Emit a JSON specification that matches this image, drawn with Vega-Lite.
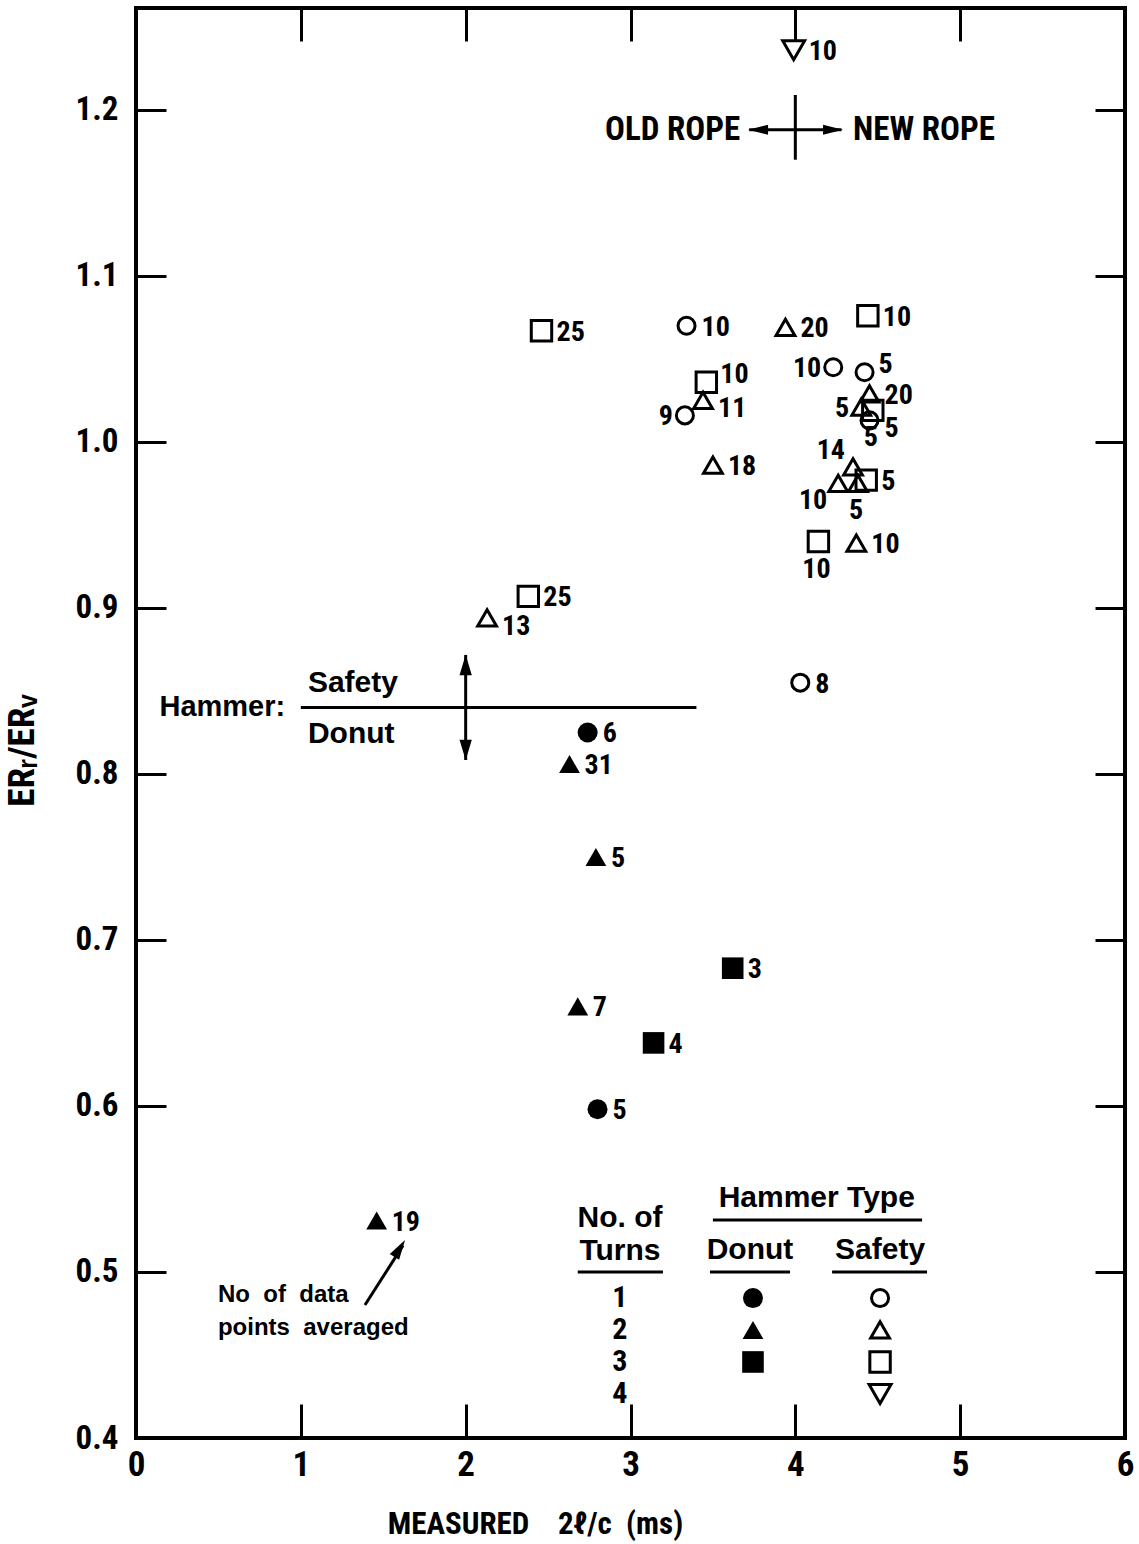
{
  "$schema": "https://vega.github.io/schema/vega-lite/v6.json",
  "width": 989,
  "height": 1430,
  "autosize": "none",
  "padding": {"left": 136, "top": 8, "right": 14, "bottom": 106},
  "background": "white",
  "config": {
    "view": {"stroke": "black", "strokeWidth": 4},
    "font": "Roboto Condensed, Liberation Sans Narrow, Liberation Sans, sans-serif",
    "text": {"color": "black", "fontWeight": "bold"}
  },
  "datasets": {
    "points": [
      {"hammer": "Safety", "turns": 1, "x": 3.34, "y": 1.070, "n": 10, "labelAt": "right"},
      {"hammer": "Safety", "turns": 1, "x": 3.33, "y": 1.016, "n": 9, "labelAt": "left"},
      {"hammer": "Safety", "turns": 1, "x": 4.23, "y": 1.045, "n": 10, "labelAt": "left"},
      {"hammer": "Safety", "turns": 1, "x": 4.42, "y": 1.042, "n": 5, "labelAt": "upperright"},
      {"hammer": "Safety", "turns": 1, "x": 4.45, "y": 1.013, "n": 5, "labelAt": "lowerright"},
      {"hammer": "Safety", "turns": 1, "x": 4.03, "y": 0.855, "n": 8, "labelAt": "right"},
      {"hammer": "Safety", "turns": 2, "x": 2.13, "y": 0.894, "n": 13, "labelAt": "lowerright"},
      {"hammer": "Safety", "turns": 2, "x": 3.94, "y": 1.069, "n": 20, "labelAt": "right"},
      {"hammer": "Safety", "turns": 2, "x": 3.44, "y": 1.025, "n": 11, "labelAt": "lowerright"},
      {"hammer": "Safety", "turns": 2, "x": 3.50, "y": 0.986, "n": 18, "labelAt": "right"},
      {"hammer": "Safety", "turns": 2, "x": 4.45, "y": 1.029, "n": 20, "labelAt": "right"},
      {"hammer": "Safety", "turns": 2, "x": 4.40, "y": 1.021, "n": 5, "labelAt": "left"},
      {"hammer": "Safety", "turns": 2, "x": 4.35, "y": 0.985, "n": 14, "labelAt": "upperleft"},
      {"hammer": "Safety", "turns": 2, "x": 4.26, "y": 0.975, "n": 10, "labelAt": "lowerleft"},
      {"hammer": "Safety", "turns": 2, "x": 4.38, "y": 0.975, "n": 5, "labelAt": "below"},
      {"hammer": "Safety", "turns": 2, "x": 4.37, "y": 0.939, "n": 10, "labelAt": "right"},
      {"hammer": "Safety", "turns": 3, "x": 2.46, "y": 1.067, "n": 25, "labelAt": "right"},
      {"hammer": "Safety", "turns": 3, "x": 3.46, "y": 1.036, "n": 10, "labelAt": "upperright"},
      {"hammer": "Safety", "turns": 3, "x": 4.44, "y": 1.076, "n": 10, "labelAt": "right"},
      {"hammer": "Safety", "turns": 3, "x": 4.47, "y": 1.019, "n": 5, "labelAt": "below"},
      {"hammer": "Safety", "turns": 3, "x": 4.43, "y": 0.977, "n": 5, "labelAt": "right"},
      {"hammer": "Safety", "turns": 3, "x": 4.14, "y": 0.940, "n": 10, "labelAt": "below"},
      {"hammer": "Safety", "turns": 3, "x": 2.38, "y": 0.907, "n": 25, "labelAt": "right"},
      {"hammer": "Safety", "turns": 4, "x": 3.99, "y": 1.236, "n": 10, "labelAt": "right"},
      {"hammer": "Donut", "turns": 1, "x": 2.74, "y": 0.825, "n": 6, "labelAt": "right"},
      {"hammer": "Donut", "turns": 1, "x": 2.80, "y": 0.598, "n": 5, "labelAt": "right"},
      {"hammer": "Donut", "turns": 2, "x": 2.63, "y": 0.806, "n": 31, "labelAt": "right"},
      {"hammer": "Donut", "turns": 2, "x": 2.79, "y": 0.750, "n": 5, "labelAt": "right"},
      {"hammer": "Donut", "turns": 2, "x": 2.68, "y": 0.660, "n": 7, "labelAt": "right"},
      {"hammer": "Donut", "turns": 2, "x": 1.46, "y": 0.531, "n": 19, "labelAt": "right"},
      {"hammer": "Donut", "turns": 3, "x": 3.62, "y": 0.683, "n": 3, "labelAt": "right"},
      {"hammer": "Donut", "turns": 3, "x": 3.14, "y": 0.638, "n": 4, "labelAt": "right"}
    ],
    "key": [
      {"hammer": "Donut", "turns": 1, "x": 3.743, "y": 0.4843},
      {"hammer": "Donut", "turns": 2, "x": 3.743, "y": 0.4651},
      {"hammer": "Donut", "turns": 3, "x": 3.743, "y": 0.4458},
      {"hammer": "Safety", "turns": 1, "x": 4.514, "y": 0.4843},
      {"hammer": "Safety", "turns": 2, "x": 4.514, "y": 0.4651},
      {"hammer": "Safety", "turns": 3, "x": 4.514, "y": 0.4458},
      {"hammer": "Safety", "turns": 4, "x": 4.514, "y": 0.4265}
    ],
    "lines": [
      {"x": 1.0, "y": 0.84, "x2": 3.40, "y2": 0.84},
      {"x": 2.0, "y": 0.8717, "x2": 2.0, "y2": 0.8084},
      {"x": 4.0, "y": 1.209, "x2": 4.0, "y2": 1.170},
      {"x": 3.72, "y": 1.188, "x2": 4.28, "y2": 1.188},
      {"x": 2.68, "y": 0.50, "x2": 3.197, "y2": 0.50},
      {"x": 3.482, "y": 0.50, "x2": 3.968, "y2": 0.50},
      {"x": 4.223, "y": 0.50, "x2": 4.799, "y2": 0.50},
      {"x": 3.50, "y": 0.5313, "x2": 4.769, "y2": 0.5313},
      {"x": 1.389, "y": 0.4801, "x2": 1.62, "y2": 0.516}
    ]
  },
  "layer": [
    {
      "data": {"name": "points"},
      "transform": [{"filter": "datum.hammer == 'Donut'"}],
      "mark": {"type": "point", "filled": true, "color": "black", "opacity": 1},
      "encoding": {
        "x": {
          "field": "x", "type": "quantitative",
          "scale": {"domain": [0, 6], "nice": false, "zero": false},
          "axis": {
            "orient": "bottom", "values": [0, 1, 2, 3, 4, 5, 6], "format": "d",
            "domain": false, "grid": false, "ticks": true, "tickSize": -34, "tickWidth": 3, "tickColor": "black",
            "labelFont": "Roboto Condensed, Liberation Sans Narrow, Liberation Sans, sans-serif", "labelFontSize": 35, "labelFontWeight": "bold",
            "labelColor": "black", "labelPadding": 43, "labelFlush": false, "labelOverlap": false,
            "title": "MEASURED\u00a0\u00a0\u00a0\u00a02ℓ/c\u00a0\u00a0(ms)",
            "titleFont": "Roboto Condensed, Liberation Sans Narrow, Liberation Sans, sans-serif", "titleFontSize": 31, "titleFontWeight": "bold",
            "titleColor": "black", "titleX": 399, "titleY": 86, "titleAlign": "center", "titleBaseline": "middle"
          }
        },
        "y": {
          "field": "y", "type": "quantitative",
          "scale": {"domain": [0.4, 1.2614], "nice": false, "zero": false},
          "axis": {
            "orient": "left", "values": [0.4, 0.5, 0.6, 0.7, 0.8, 0.9, 1.0, 1.1, 1.2], "format": ".1f",
            "domain": false, "grid": false, "ticks": true, "tickSize": -30, "tickWidth": 3, "tickColor": "black",
            "labelFont": "Roboto Condensed, Liberation Sans Narrow, Liberation Sans, sans-serif", "labelFontSize": 33, "labelFontWeight": "bold",
            "labelColor": "black", "labelPadding": 48, "labelFlush": false, "labelOverlap": false,
            "title": "ERᵣ/ERᵥ",
            "titleFont": "Roboto Condensed, Liberation Sans Narrow, Liberation Sans, sans-serif", "titleFontSize": 37, "titleFontWeight": "bold",
            "titleColor": "black", "titleAngle": 270, "titleX": -114, "titleY": 742, "titleAlign": "center", "titleBaseline": "middle"
          }
        },
        "shape": {"field": "turns", "type": "nominal", "scale": {"domain": [1, 2, 3, 4], "range": ["circle", "triangle-up", "square", "triangle-down"]}, "legend": null},
        "size": {"field": "turns", "type": "ordinal", "scale": {"domain": [1, 2, 3, 4], "range": [400, 500, 330, 500]}, "legend": null}
      }
    },
    {
      "data": {"name": "points"},
      "transform": [{"filter": "datum.hammer == 'Safety'"}],
      "mark": {"type": "point", "filled": false, "color": "black", "strokeWidth": 3, "opacity": 1},
      "encoding": {
        "x": {
          "field": "x", "type": "quantitative",
          "axis": {"orient": "top", "values": [1, 2, 3, 4, 5], "labels": false, "domain": false, "grid": false,
                   "tickSize": -33, "tickWidth": 3, "tickColor": "black", "title": null}
        },
        "y": {
          "field": "y", "type": "quantitative",
          "axis": {"orient": "right", "values": [0.5, 0.6, 0.7, 0.8, 0.9, 1.0, 1.1, 1.2], "labels": false, "domain": false, "grid": false,
                   "tickSize": -30, "tickWidth": 3, "tickColor": "black", "title": null}
        },
        "shape": {"field": "turns", "type": "nominal", "scale": {"domain": [1, 2, 3, 4], "range": ["circle", "triangle-up", "square", "triangle-down"]}, "legend": null},
        "size": {"field": "turns", "type": "ordinal", "scale": {"domain": [1, 2, 3, 4], "range": [290, 480, 270, 480]}, "legend": null}
      }
    },
    {
      "data": {"name": "lines"},
      "mark": {"type": "rule", "color": "black", "strokeWidth": 3},
      "encoding": {
        "x": {"field": "x", "type": "quantitative", "axis": null},
        "y": {"field": "y", "type": "quantitative", "axis": null},
        "x2": {"field": "x2"},
        "y2": {"field": "y2"}
      }
    },
    {
      "data": {"values": [{"x": 3.774, "y": 1.188}]},
      "mark": {"type": "point", "shape": "M-1,0L1,-0.5L1,0.5Z", "filled": true, "color": "black", "size": 400, "opacity": 1},
      "encoding": {"x": {"field": "x", "type": "quantitative", "axis": null}, "y": {"field": "y", "type": "quantitative", "axis": null}}
    },
    {
      "data": {"values": [{"x": 4.229, "y": 1.188}]},
      "mark": {"type": "point", "shape": "M1,0L-1,-0.5L-1,0.5Z", "filled": true, "color": "black", "size": 400, "opacity": 1},
      "encoding": {"x": {"field": "x", "type": "quantitative", "axis": null}, "y": {"field": "y", "type": "quantitative", "axis": null}}
    },
    {
      "data": {"values": [{"x": 2.0, "y": 0.8657}]},
      "mark": {"type": "point", "shape": "M0,-1L-0.6,1L0.6,1Z", "filled": true, "color": "black", "size": 420, "opacity": 1},
      "encoding": {"x": {"field": "x", "type": "quantitative", "axis": null}, "y": {"field": "y", "type": "quantitative", "axis": null}}
    },
    {
      "data": {"values": [{"x": 2.0, "y": 0.8145}]},
      "mark": {"type": "point", "shape": "M0,1L-0.6,-1L0.6,-1Z", "filled": true, "color": "black", "size": 420, "opacity": 1},
      "encoding": {"x": {"field": "x", "type": "quantitative", "axis": null}, "y": {"field": "y", "type": "quantitative", "axis": null}}
    },
    {
      "data": {"values": [{"x": 1.600, "y": 0.5142}]},
      "mark": {"type": "point", "shape": "M0,-1L-0.55,1L0.55,1Z", "angle": 32, "filled": true, "color": "black", "size": 400, "opacity": 1},
      "encoding": {"x": {"field": "x", "type": "quantitative", "axis": null}, "y": {"field": "y", "type": "quantitative", "axis": null}}
    },
    {
      "data": {"name": "key"},
      "transform": [{"filter": "datum.hammer == 'Donut'"}],
      "mark": {"type": "point", "filled": true, "color": "black", "opacity": 1},
      "encoding": {
        "x": {"field": "x", "type": "quantitative", "axis": null},
        "y": {"field": "y", "type": "quantitative", "axis": null},
        "shape": {"field": "turns", "type": "nominal", "scale": {"domain": [1, 2, 3, 4], "range": ["circle", "triangle-up", "square", "triangle-down"]}, "legend": null},
        "size": {"field": "turns", "type": "ordinal", "scale": {"domain": [1, 2, 3, 4], "range": [400, 500, 330, 500]}, "legend": null}
      }
    },
    {
      "data": {"name": "key"},
      "transform": [{"filter": "datum.hammer == 'Safety'"}],
      "mark": {"type": "point", "filled": false, "color": "black", "strokeWidth": 3, "opacity": 1},
      "encoding": {
        "x": {"field": "x", "type": "quantitative", "axis": null},
        "y": {"field": "y", "type": "quantitative", "axis": null},
        "shape": {"field": "turns", "type": "nominal", "scale": {"domain": [1, 2, 3, 4], "range": ["circle", "triangle-up", "square", "triangle-down"]}, "legend": null},
        "size": {"field": "turns", "type": "ordinal", "scale": {"domain": [1, 2, 3, 4], "range": [290, 480, 270, 480]}, "legend": null}
      }
    },
    {
      "data": {"name": "points"},
      "transform": [{"filter": "datum.labelAt == 'right'"}],
      "mark": {"type": "text", "align": "left", "baseline": "middle", "dx": 15, "dy": 2, "fontSize": 28, "fontWeight": "bold"},
      "encoding": {"x": {"field": "x", "type": "quantitative", "axis": null}, "y": {"field": "y", "type": "quantitative", "axis": null}, "text": {"field": "n"}}
    },
    {
      "data": {"name": "points"},
      "transform": [{"filter": "datum.labelAt == 'upperright'"}],
      "mark": {"type": "text", "align": "left", "baseline": "middle", "dx": 14, "dy": -7, "fontSize": 28, "fontWeight": "bold"},
      "encoding": {"x": {"field": "x", "type": "quantitative", "axis": null}, "y": {"field": "y", "type": "quantitative", "axis": null}, "text": {"field": "n"}}
    },
    {
      "data": {"name": "points"},
      "transform": [{"filter": "datum.labelAt == 'lowerright'"}],
      "mark": {"type": "text", "align": "left", "baseline": "middle", "dx": 15, "dy": 9, "fontSize": 28, "fontWeight": "bold"},
      "encoding": {"x": {"field": "x", "type": "quantitative", "axis": null}, "y": {"field": "y", "type": "quantitative", "axis": null}, "text": {"field": "n"}}
    },
    {
      "data": {"name": "points"},
      "transform": [{"filter": "datum.labelAt == 'left'"}],
      "mark": {"type": "text", "align": "right", "baseline": "middle", "dx": -12, "dy": 2, "fontSize": 28, "fontWeight": "bold"},
      "encoding": {"x": {"field": "x", "type": "quantitative", "axis": null}, "y": {"field": "y", "type": "quantitative", "axis": null}, "text": {"field": "n"}}
    },
    {
      "data": {"name": "points"},
      "transform": [{"filter": "datum.labelAt == 'below'"}],
      "mark": {"type": "text", "align": "center", "baseline": "middle", "dx": -2, "dy": 28, "fontSize": 28, "fontWeight": "bold"},
      "encoding": {"x": {"field": "x", "type": "quantitative", "axis": null}, "y": {"field": "y", "type": "quantitative", "axis": null}, "text": {"field": "n"}}
    },
    {
      "data": {"name": "points"},
      "transform": [{"filter": "datum.labelAt == 'upperleft'"}],
      "mark": {"type": "text", "align": "right", "baseline": "middle", "dx": -8, "dy": -16, "fontSize": 28, "fontWeight": "bold"},
      "encoding": {"x": {"field": "x", "type": "quantitative", "axis": null}, "y": {"field": "y", "type": "quantitative", "axis": null}, "text": {"field": "n"}}
    },
    {
      "data": {"name": "points"},
      "transform": [{"filter": "datum.labelAt == 'lowerleft'"}],
      "mark": {"type": "text", "align": "right", "baseline": "middle", "dx": -11, "dy": 18, "fontSize": 28, "fontWeight": "bold"},
      "encoding": {"x": {"field": "x", "type": "quantitative", "axis": null}, "y": {"field": "y", "type": "quantitative", "axis": null}, "text": {"field": "n"}}
    },
    {
      "data": {"values": [{"x": 3.665, "y": 1.188, "t": "OLD ROPE"}]},
      "mark": {"type": "text", "align": "right", "baseline": "middle", "fontSize": 33, "fontWeight": "bold"},
      "encoding": {"x": {"field": "x", "type": "quantitative", "axis": null}, "y": {"field": "y", "type": "quantitative", "axis": null}, "text": {"field": "t"}}
    },
    {
      "data": {"values": [{"x": 4.35, "y": 1.188, "t": "NEW ROPE"}]},
      "mark": {"type": "text", "align": "left", "baseline": "middle", "fontSize": 33, "fontWeight": "bold"},
      "encoding": {"x": {"field": "x", "type": "quantitative", "axis": null}, "y": {"field": "y", "type": "quantitative", "axis": null}, "text": {"field": "t"}}
    },
    {
      "data": {"values": [{"x": 0.905, "y": 0.8405, "t": "Hammer:"}]},
      "mark": {"type": "text", "align": "right", "baseline": "middle", "fontSize": 29, "fontWeight": "bold", "font": "Liberation Sans, Arial, sans-serif"},
      "encoding": {"x": {"field": "x", "type": "quantitative", "axis": null}, "y": {"field": "y", "type": "quantitative", "axis": null}, "text": {"field": "t"}}
    },
    {
      "data": {"values": [{"x": 1.043, "y": 0.855, "t": "Safety"}, {"x": 1.043, "y": 0.824, "t": "Donut"}]},
      "mark": {"type": "text", "align": "left", "baseline": "middle", "fontSize": 30, "fontWeight": "bold", "font": "Liberation Sans, Arial, sans-serif"},
      "encoding": {"x": {"field": "x", "type": "quantitative", "axis": null}, "y": {"field": "y", "type": "quantitative", "axis": null}, "text": {"field": "t"}}
    },
    {
      "data": {"values": [{"x": 0.497, "y": 0.486, "t": "No\u00a0\u00a0of\u00a0\u00a0data"}, {"x": 0.497, "y": 0.466, "t": "points\u00a0\u00a0averaged"}]},
      "mark": {"type": "text", "align": "left", "baseline": "middle", "fontSize": 24, "fontWeight": "bold", "font": "Liberation Sans, Arial, sans-serif"},
      "encoding": {"x": {"field": "x", "type": "quantitative", "axis": null}, "y": {"field": "y", "type": "quantitative", "axis": null}, "text": {"field": "t"}}
    },
    {
      "data": {"values": [
        {"x": 2.936, "y": 0.5325, "t": "No. of"},
        {"x": 2.936, "y": 0.5125, "t": "Turns"},
        {"x": 4.13, "y": 0.5446, "t": "Hammer Type"},
        {"x": 3.725, "y": 0.5133, "t": "Donut"},
        {"x": 4.514, "y": 0.5133, "t": "Safety"}
      ]},
      "mark": {"type": "text", "align": "center", "baseline": "middle", "fontSize": 30, "fontWeight": "bold", "font": "Liberation Sans, Arial, sans-serif"},
      "encoding": {"x": {"field": "x", "type": "quantitative", "axis": null}, "y": {"field": "y", "type": "quantitative", "axis": null}, "text": {"field": "t"}}
    },
    {
      "data": {"values": [
        {"x": 2.936, "y": 0.4843, "t": "1"},
        {"x": 2.936, "y": 0.4651, "t": "2"},
        {"x": 2.936, "y": 0.4458, "t": "3"},
        {"x": 2.936, "y": 0.4265, "t": "4"}
      ]},
      "mark": {"type": "text", "align": "center", "baseline": "middle", "fontSize": 30, "fontWeight": "bold"},
      "encoding": {"x": {"field": "x", "type": "quantitative", "axis": null}, "y": {"field": "y", "type": "quantitative", "axis": null}, "text": {"field": "t"}}
    }
  ],
  "resolve": {"axis": {"x": "independent", "y": "independent"}, "scale": {"size": "independent"}}
}
